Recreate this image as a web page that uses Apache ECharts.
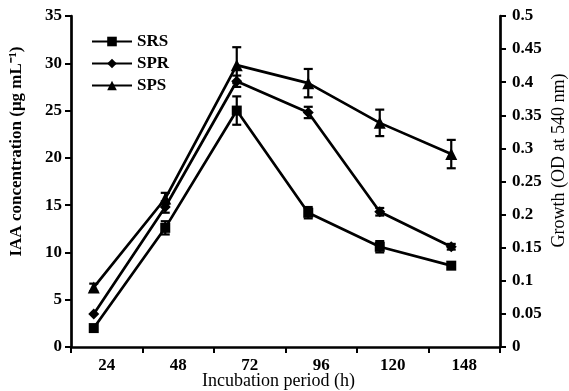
<!DOCTYPE html>
<html><head><meta charset="utf-8">
<script src="https://cdn.jsdelivr.net/npm/echarts@6/dist/echarts.min.js"></script>
<style>html,body{margin:0;padding:0;background:#fff}#c{width:569px;height:391px}</style>
</head><body><div id="c"></div>
<script>
const categories = ['24', '48', '72', '96', '120', '148'];
const srs    = [2.0, 12.6, 25.0, 14.2, 10.6, 8.6];
const srsErr = [0.0, 0.7, 1.5, 0.6, 0.6, 0.0];
const spr    = [3.5, 14.8, 28.1, 24.8, 14.3, 10.6];
const sprErr = [0.0, 0.6, 0.6, 0.6, 0.4, 0.3];
const sps    = [6.3, 15.7, 29.8, 27.9, 23.7, 20.4];
const spsErr = [0.4, 0.6, 1.9, 1.5, 1.4, 1.5];
const leftMax = 35, leftInterval = 5;
const rightMax = 0.5, rightInterval = 0.05;

const FONT = "'Liberation Serif','Times New Roman',serif";
const chart = echarts.init(document.getElementById('c'));

function errData(vals, errs) {
  return vals.map((v, i) => [i, v - errs[i], v + errs[i], errs[i]]);
}
function errSeries(vals, errs) {
  return {
    type: 'custom', xAxisIndex: 1, yAxisIndex: 2, z: 3,
    data: errData(vals, errs),
    renderItem: function (params, api) {
      if (api.value(3) <= 0) return null;
      const lo = api.coord([api.value(0), api.value(1)]);
      const hi = api.coord([api.value(0), api.value(2)]);
      const w = 4.5;
      const st = { stroke: '#000', lineWidth: 2.2 };
      return { type: 'group', children: [
        { type: 'line', shape: { x1: lo[0], y1: lo[1], x2: hi[0], y2: hi[1] }, style: st },
        { type: 'line', shape: { x1: lo[0] - w, y1: lo[1], x2: lo[0] + w, y2: lo[1] }, style: st },
        { type: 'line', shape: { x1: hi[0] - w, y1: hi[1], x2: hi[0] + w, y2: hi[1] }, style: st }
      ]};
    }
  };
}
function lineSeries(name, vals, symbol, size) {
  return {
    name: name, type: 'line', xAxisIndex: 1, yAxisIndex: 2, data: vals,
    symbol: symbol, symbolSize: size, showSymbol: true,
    lineStyle: { color: '#000', width: 2.7 }, itemStyle: { color: '#000' },
    z: 4, animation: false
  };
}
const axisLine = { show: true, lineStyle: { color: '#000', width: 2.7 } };
const axisTick = { show: true, inside: false, length: 6, lineStyle: { color: '#000', width: 2 } };
const tickLabel = { color: '#000', fontFamily: FONT, fontWeight: 'bold', fontSize: 17 };

chart.setOption({
  animation: false,
  grid: [
    { left: 71, right: 69, top: 16, bottom: 44, containLabel: false, outerBoundsMode: 'none' },
    { left: 58, right: 82, top: 16, bottom: 44, containLabel: false, outerBoundsMode: 'none' }
  ],
  legend: {
    orient: 'vertical', left: 86, top: 28, itemWidth: 40, itemHeight: 12, itemGap: 5,
    textStyle: { color: '#000', fontFamily: FONT, fontWeight: 'bold', fontSize: 17 },
    data: ['SRS', 'SPR', 'SPS']
  },
  xAxis: [
    { type: 'category', gridIndex: 0, data: categories, boundaryGap: true,
      axisLine: axisLine, axisTick: axisTick, axisLabel: Object.assign({ margin: 10 }, tickLabel),
      name: 'Incubation period (h)', nameLocation: 'middle', nameGap: 25, nameMoveOverlap: false,
      nameTextStyle: { color: '#000', fontFamily: FONT, fontSize: 18, padding: [0, 14, 0, 0] } },
    { type: 'category', gridIndex: 1, data: categories, boundaryGap: true, show: false }
  ],
  yAxis: [
    { type: 'value', gridIndex: 0, min: 0, max: leftMax, interval: leftInterval,
      axisLine: axisLine, axisTick: axisTick, splitLine: { show: false },
      axisLabel: Object.assign({ margin: 9 }, tickLabel),
      name: 'IAA concentration (μg mL⁻¹)', nameLocation: 'middle', nameGap: 46, nameRotate: 90, nameMoveOverlap: false,
      nameTextStyle: { color: '#000', fontFamily: FONT, fontWeight: 'bold', fontSize: 17, padding: [0, 0, 0, 60] } },
    { type: 'value', gridIndex: 0, position: 'right', min: 0, max: rightMax, interval: rightInterval,
      axisLine: axisLine, axisTick: axisTick, splitLine: { show: false },
      axisLabel: Object.assign({ margin: 12, formatter: v => String(+v.toFixed(2)) }, tickLabel),
      name: 'Growth (OD at 540 nm)', nameLocation: 'middle', nameGap: 50, nameRotate: 90, nameMoveOverlap: false,
      nameTextStyle: { color: '#000', fontFamily: FONT, fontSize: 18, padding: [0, 0, 0, 42] } },
    { type: 'value', gridIndex: 1, min: 0, max: leftMax, show: false }
  ],
  series: [
    errSeries(srs, srsErr), errSeries(spr, sprErr), errSeries(sps, spsErr),
    lineSeries('SRS', srs, 'rect', 10),
    lineSeries('SPR', spr, 'diamond', 11),
    lineSeries('SPS', sps, 'triangle', 12)
  ]
});
</script></body></html>
